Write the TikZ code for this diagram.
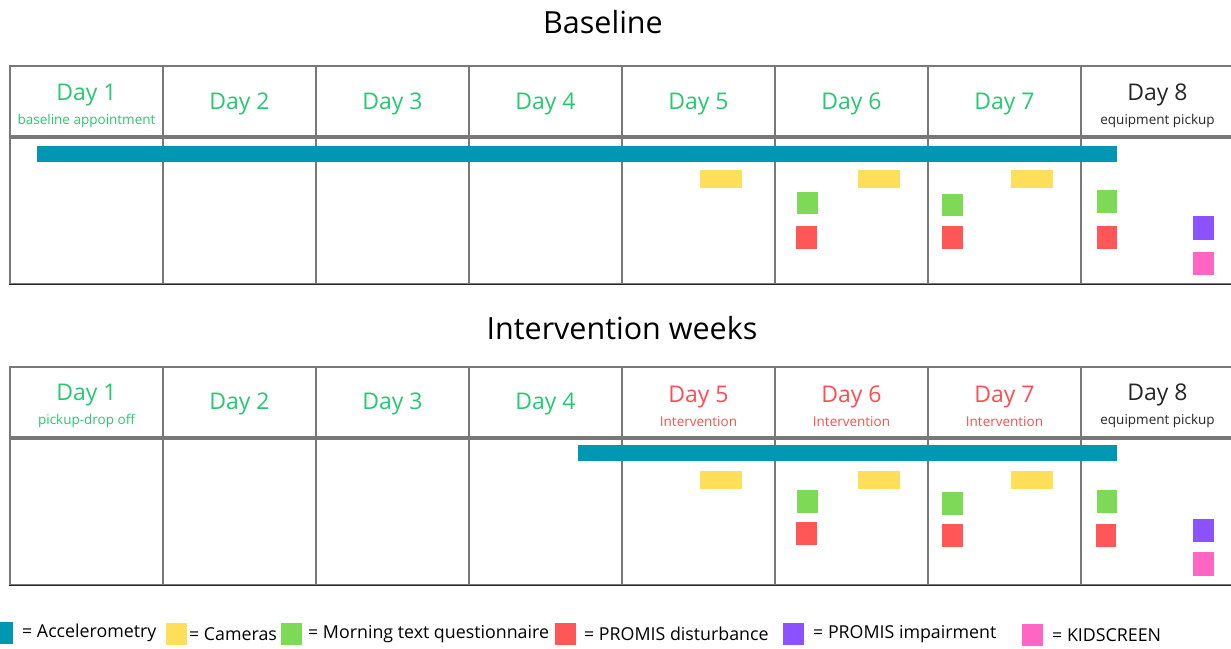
\documentclass[tikz,border=0pt]{standalone}
\usepackage{fontspec}
\setmainfont{Open Sans}
\usetikzlibrary{positioning}

\definecolor{daygreen}{RGB}{38,201,112}
\definecolor{dayred}{RGB}{255,77,82}
\definecolor{gridgray}{RGB}{120,120,120}
\definecolor{accelblue}{RGB}{0,151,178}
\definecolor{camyellow}{RGB}{255,222,89}
\definecolor{qgreen}{RGB}{126,217,87}
\definecolor{promisred}{RGB}{255,87,87}
\definecolor{impurple}{RGB}{140,82,255}
\definecolor{kidpink}{RGB}{255,102,196}

\newcommand{\subtextfont}{\fontsize{13.5}{13.5}\selectfont}

\tikzset{
  headcell/.style={draw=gridgray, line width=1.3pt, minimum width=153pt,
    minimum height=70pt, inner sep=0pt},
  bodycell/.style={draw=gridgray, line width=1.3pt, minimum width=153pt,
    minimum height=146pt, inner sep=0pt},
  daylabel/.style={inner sep=0pt, align=center, font=\fontsize{23}{24}\selectfont},
  weektitle/.style={font=\fontsize{30.5}{30}\selectfont},
  keybox/.style={minimum width=21pt, minimum height=22pt, inner sep=0pt},
  keytext/.style={anchor=west, inner sep=0pt, font=\fontsize{17.8}{18}\selectfont},
}

\begin{document}
\begin{tikzpicture}[x=1pt, y=-1pt]
    \useasboundingbox (0,0) rectangle (1231,648);

    % (a) baseline week
    \node[weektitle] (titleA) at (603,22) {Baseline};
    \foreach \i in {1,...,8} {
      \node[bodycell] (bA\i) at ({86.5+153*(\i-1)}, 211) {};
      \node[headcell] (hA\i) at ({86.5+153*(\i-1)}, 101) {};
    }
    \node[daylabel, text=daygreen] (dA1) at (86.5,106) {Day 1\\[0pt]{\subtextfont baseline appointment}};
    \foreach \i in {2,...,7} {
      \node[daylabel, text=daygreen] (dA\i) at ({86.5+153*(\i-1)}, 104) {Day \i};
    }
    \node[daylabel, text=black!85] (dA8) at (1157.5,106) {Day 8\\[0pt]{\subtextfont equipment pickup}};
    \draw[black!85, line width=1.3pt] (bA1.south west) -- (bA8.south east);
    \fill[accelblue] (37,146) rectangle (1117,162);
    \fill[camyellow] (700,170) rectangle (742,188);
    \fill[camyellow] (858,170) rectangle (900,188);
    \fill[camyellow] (1011,170) rectangle (1053,188);
    \fill[qgreen] (797,192) rectangle (818,214);
    \fill[qgreen] (942,194) rectangle (963,216);
    \fill[qgreen] (1097,190) rectangle (1117,213);
    \fill[promisred] (796,226) rectangle (817,249);
    \fill[promisred] (942,226) rectangle (963,249);
    \fill[promisred] (1097,226) rectangle (1117,249);
    \fill[impurple] (1193,216) rectangle (1214,240);
    \fill[kidpink] (1193,252) rectangle (1214,275);

    % (b) intervention weeks
    \begin{scope}[yshift=-300pt]
      \node[weektitle] (titleB) at (622,28) {Intervention weeks};
      \foreach \i in {1,...,8} {
        \node[bodycell] (bB\i) at ({86.5+153*(\i-1)}, 212) {};
        \node[headcell] (hB\i) at ({86.5+153*(\i-1)}, 102) {};
      }
      \node[daylabel, text=daygreen] (dB1) at (86.5,106) {Day 1\\[0pt]{\subtextfont pickup-drop off}};
      \foreach \i in {2,3,4} {
        \node[daylabel, text=daygreen] (dB\i) at ({86.5+153*(\i-1)}, 104) {Day \i};
      }
      \foreach \i in {5,6,7} {
        \node[daylabel, text=dayred] (dB\i) at ({86.5+153*(\i-1)}, 106) {Day \i\\[0pt]{\subtextfont Intervention}};
      }
      \node[daylabel, text=black!85] (dB8) at (1157.5,106) {Day 8\\[0pt]{\subtextfont equipment pickup}};
      \draw[black!85, line width=1.3pt] (bB1.south west) -- (bB8.south east);
      \fill[accelblue] (578,145) rectangle (1117,161);
      \fill[camyellow] (700,171) rectangle (742,189);
      \fill[camyellow] (858,171) rectangle (900,189);
      \fill[camyellow] (1011,171) rectangle (1053,189);
      \fill[qgreen] (797,190) rectangle (818,213);
      \fill[qgreen] (942,192) rectangle (963,215);
      \fill[qgreen] (1097,190) rectangle (1117,213);
      \fill[promisred] (796,222) rectangle (817,245);
      \fill[promisred] (942,224) rectangle (963,247);
      \fill[promisred] (1096,224) rectangle (1116,247);
      \fill[impurple] (1193,219) rectangle (1214,242);
      \fill[kidpink] (1193,252) rectangle (1214,276);
    \end{scope}

    % legend
    \node[keybox, fill=accelblue] (kAccel) at (2.5,633) {};
    \node[keytext] (tAccel) at (22,633) {= Accelerometry};
    \node[keybox, fill=camyellow] (kCam) at (176,634) {};
    \node[keytext] (tCam) at (189,634) {= Cameras};
    \node[keybox, fill=qgreen] (kMorning) at (291.5,634) {};
    \node[keytext] (tMorning) at (308,634) {= Morning text questionnaire};
    \node[keybox, fill=promisred] (kDist) at (565.5,634) {};
    \node[keytext] (tDist) at (584,634) {= PROMIS disturbance};
    \node[keybox, fill=impurple] (kImp) at (793.5,634) {};
    \node[keytext] (tImp) at (813,634) {= PROMIS impairment};
    \node[keybox, fill=kidpink] (kKid) at (1032.5,635) {};
    \node[keytext] (tKid) at (1052,635) {= KIDSCREEN};
\end{tikzpicture}
\end{document}
